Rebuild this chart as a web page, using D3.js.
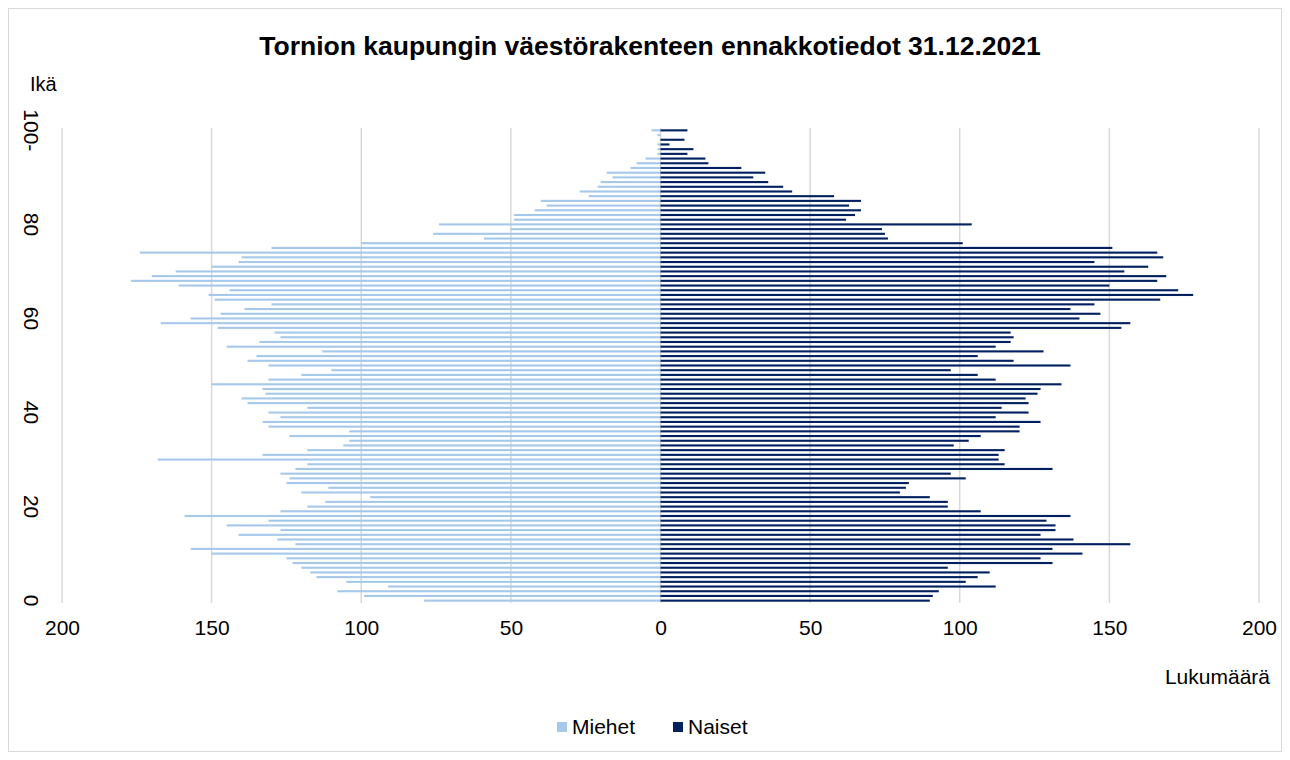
<!DOCTYPE html>
<html>
<head>
<meta charset="utf-8">
<script src="https://cdn.jsdelivr.net/npm/d3@7"></script>
<style>
  body { margin: 0; background: #fff; }
  svg text { font-family: "Liberation Sans", Arial, sans-serif; fill: #000; }
</style>
</head>
<body>
<svg id="chart" width="1290" height="760"></svg>
<script>
// ikäluokat 0..100 (viimeinen "100-")
var ages = d3.range(0, 101);
var ageLabels = ages.map(function (a) { return a === 100 ? "100-" : String(a); });

// Miehet, ikä 0 -> 100
var miehet = [79, 99, 108, 91, 105, 115, 117, 120, 123, 125,
  150, 157, 122, 128, 141, 127, 145, 131, 159, 127,
  118, 112, 97, 120, 111, 125, 124, 127, 122, 118,
  168, 133, 118, 106, 104, 124, 104, 131, 133, 127,
  131, 118, 138, 140, 132, 133, 150, 131, 120, 110,
  131, 138, 135, 113, 145, 134, 127, 129, 148, 167,
  157, 147, 139, 130, 149, 151, 144, 161, 177, 170,
  162, 150, 141, 140, 174, 130, 100, 59, 76, 50,
  74, 49, 49, 42, 38, 40, 24, 27, 21, 20,
  16, 18, 10, 8, 5, 1, 1, 1, 0, 1,
  3];

// Naiset, ikä 0 -> 100
var naiset = [90, 91, 93, 112, 102, 106, 110, 96, 131, 127,
  141, 131, 157, 138, 127, 132, 132, 129, 137, 107,
  96, 96, 90, 80, 82, 83, 102, 97, 131, 115,
  113, 113, 115, 98, 103, 107, 120, 120, 127, 112,
  123, 114, 123, 122, 126, 127, 134, 112, 106, 97,
  137, 118, 106, 128, 112, 117, 118, 117, 154, 157,
  140, 147, 137, 145, 167, 178, 173, 150, 166, 169,
  155, 163, 145, 168, 166, 151, 101, 76, 75, 74,
  104, 62, 65, 67, 63, 67, 58, 44, 41, 36,
  31, 35, 27, 16, 15, 9, 11, 3, 8, 0,
  9];

var xTicks = [-200, -150, -100, -50, 0, 50, 100, 150, 200];
var ageTicks = [0, 20, 40, 60, 80, 100];

var colMiehet = "#a6c8ea";
var colNaiset = "#002060";

var svg = d3.select("#chart");

// kehys
svg.append("rect")
  .attr("x", 8.5).attr("y", 8.5)
  .attr("width", 1273).attr("height", 743)
  .attr("fill", "#fff")
  .attr("stroke", "#d9d9d9");

var x = d3.scaleLinear().domain([-200, 200]).range([62, 1259]);
var y = d3.scaleBand()
  .domain(ages.slice().reverse())
  .range([128, 603])
  .paddingInner(0.55)
  .paddingOuter(0.275);

// pystyviivat
svg.append("g").selectAll("line")
  .data(xTicks)
  .enter().append("line")
  .attr("x1", function (d) { return x(d); })
  .attr("x2", function (d) { return x(d); })
  .attr("y1", 128).attr("y2", 603)
  .attr("stroke", "#d9d9d9")
  .attr("stroke-width", 1.5);

// palkit
svg.append("g").selectAll("rect")
  .data(ages)
  .enter().append("rect")
  .attr("x", function (a) { return x(-miehet[a]); })
  .attr("y", function (a) { return y(a); })
  .attr("width", function (a) { return x(0) - x(-miehet[a]); })
  .attr("height", y.bandwidth())
  .attr("fill", colMiehet);

svg.append("g").selectAll("rect")
  .data(ages)
  .enter().append("rect")
  .attr("x", x(0))
  .attr("y", function (a) { return y(a); })
  .attr("width", function (a) { return x(naiset[a]) - x(0); })
  .attr("height", y.bandwidth())
  .attr("fill", colNaiset);

// x-akselin luvut
var xAxis = d3.axisBottom(x)
  .tickValues(xTicks)
  .tickFormat(function (d) { return Math.abs(d); })
  .tickSize(0)
  .tickPadding(17);
var gx = svg.append("g").attr("transform", "translate(0,603)").call(xAxis);
gx.select(".domain").remove();
gx.selectAll("text")
  .style("font-family", "'Liberation Sans', Arial, sans-serif")
  .style("font-size", "21px")
  .attr("fill", "#000");

// y-akselin luvut, kierretty
svg.append("g").selectAll("text")
  .data(ageTicks)
  .enter().append("text")
  .attr("transform", function (a) {
    return "translate(31," + (y(a) + y.bandwidth() / 2) + ") rotate(90)";
  })
  .attr("text-anchor", "middle")
  .attr("dy", "0.35em")
  .style("font-size", "21px")
  .text(function (a) { return ageLabels[a]; });

// otsikot
svg.append("text")
  .attr("x", 650).attr("y", 55)
  .attr("text-anchor", "middle")
  .style("font-size", "26.5px")
  .style("font-weight", "bold")
  .text("Tornion kaupungin väestörakenteen ennakkotiedot 31.12.2021");

svg.append("text")
  .attr("x", 30).attr("y", 91)
  .style("font-size", "20px")
  .text("Ikä");

svg.append("text")
  .attr("x", 1270).attr("y", 684)
  .attr("text-anchor", "end")
  .style("font-size", "21px")
  .text("Lukumäärä");

// selite
var legend = [{ name: "Miehet", color: colMiehet, x: 557 }, { name: "Naiset", color: colNaiset, x: 673 }];
var lg = svg.append("g").selectAll("g")
  .data(legend)
  .enter().append("g")
  .attr("transform", function (d) { return "translate(" + d.x + ",727)"; });
lg.append("rect")
  .attr("x", 0).attr("y", -5)
  .attr("width", 10).attr("height", 10)
  .attr("fill", function (d) { return d.color; });
lg.append("text")
  .attr("x", 15).attr("dy", "0.35em")
  .style("font-size", "21px")
  .text(function (d) { return d.name; });
</script>
</body>
</html>
